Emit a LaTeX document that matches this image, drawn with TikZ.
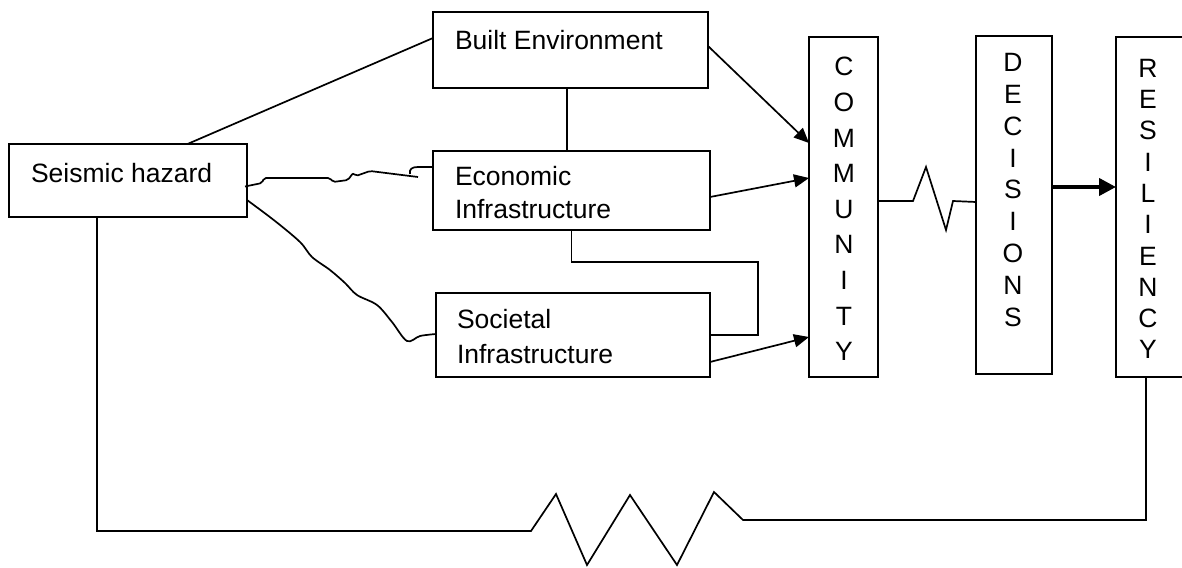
\documentclass[tikz,border=0pt]{standalone}
\usepackage{fontspec}
\setmainfont{Liberation Sans}
\usetikzlibrary{arrows.meta,calc}
\begin{document}
\begin{tikzpicture}[x=1pt,y=-1pt,
  box/.style={draw, line width=1.7pt, inner sep=0pt, outer sep=0pt},
  txt/.style={inner sep=0pt, outer sep=0pt, font=\fontsize{26.5}{33}\selectfont},
  vtxt/.style={inner sep=0pt, outer sep=0pt, align=center},
  wire/.style={line width=1.7pt},
  arrowlink/.style={-{Triangle[length=15pt,width=13pt]}},
  bigarrow/.style={line width=4pt, -{Triangle[length=17pt,width=17pt]}}
]
\useasboundingbox (0,0) rectangle (1182,567);
\clip (0,0) rectangle (1182,567);

% boxes
\node[box, minimum width=238pt, minimum height=73pt] (haz) at (128,180.5) {};
\node[box, minimum width=275pt, minimum height=76pt] (built) at (570.5,50) {};
\node[box, minimum width=277pt, minimum height=79pt] (econ) at (571.5,190.5) {};
\node[box, minimum width=274pt, minimum height=84pt] (soc) at (573,335) {};
\node[box, minimum width=69pt, minimum height=340pt] (comm) at (843.5,207) {};
\node[box, minimum width=76pt, minimum height=338pt] (dec) at (1014,205) {};
\node[box, minimum width=74pt, minimum height=340pt] (res) at (1153,207) {};

% box texts
\node[txt, anchor=base west] (hazT) at (31,182) {Seismic hazard};
\node[txt, anchor=base west] (builtT) at (455,50) {Built Environment};
\node[txt, anchor=west, align=left] (econT) at (455,193) {Economic\\Infrastructure};
\node[txt, anchor=west, align=left, font=\fontsize{26.5}{35}\selectfont] (socT) at (457,337) {Societal\\Infrastructure};
\node[vtxt, font=\fontsize{26.5}{35.6}\selectfont] (commT) at (844,209) {C\\O\\M\\M\\U\\N\\I\\T\\Y};
\node[vtxt, font=\fontsize{26.5}{31.9}\selectfont] (decT) at (1013,190) {D\\E\\C\\I\\S\\I\\O\\N\\S};
\node[vtxt, font=\fontsize{26.5}{31.3}\selectfont] (resT) at (1148,209) {R\\E\\S\\I\\L\\I\\E\\N\\C\\Y};

% hazard to built environment
\draw[wire] ([xshift=59.5pt]haz.north) -- ([yshift=-26pt]built.north west);
% built environment to economic infrastructure
\coordinate (be) at ([xshift=-3.5pt]built.south);
\draw[wire] (be) -- (be |- econ.north);

% inputs to the community
\draw[wire, arrowlink] ([yshift=4pt]built.east) -- ([yshift=64pt]comm.west);
\draw[wire, arrowlink] ([yshift=-6.5pt]econ.east) -- ([yshift=29pt]comm.west);
\draw[wire, arrowlink] ([yshift=-27pt]soc.east) -- ([yshift=-130pt]comm.west);

% economic to societal loop
\coordinate (loopR) at (758,262);
\draw[wire] (econ.south) |- (loopR) |- (soc.east);

% hand-drawn links from the hazard
\coordinate (we1) at ([xshift=-2pt,yshift=-6pt]haz.east);
\draw[wire, rounded corners=2pt] (we1) -- (262,183) -- (264,178) -- (330,178) -- (333,182)
  -- (348,180) -- (353,173) -- (356,176) -- (370,171) -- (418,177);
\draw[wire] (410,174) .. controls (409,169) and (412,167) .. (418,167) -- ([yshift=23.5pt]econ.west);

\coordinate (ws1) at ([yshift=-19.5pt]haz.east);
\coordinate (ws2) at ([yshift=1pt]soc.west);
\draw[wire] plot[smooth, tension=0.55] coordinates {(ws1) (275,221) (300,242) (312,257) (330,270)
  (345,283) (357,295) (377,305) (392,322) (407,341) (420,336) (ws2)};

% community to decisions
\draw[wire] ([yshift=6pt]comm.east) -- (913,201) -- (926,167) -- (946,230) -- (953,201) -- ([yshift=3pt]dec.west);
% decisions to resiliency
\coordinate (da) at ([yshift=18pt]dec.east);
\draw[bigarrow] (da) -- (da -| res.west);

% feedback from resiliency to the hazard
\coordinate (rs) at ([xshift=-7pt]res.south);
\coordinate (hs) at ([xshift=-31pt]haz.south);
\draw[wire] (rs) |- (743,520) -- (714,492) -- (677,565) -- (630,495) -- (587,565)
  -- (556,494) -- (531,531) -| (hs);
\end{tikzpicture}
\end{document}
